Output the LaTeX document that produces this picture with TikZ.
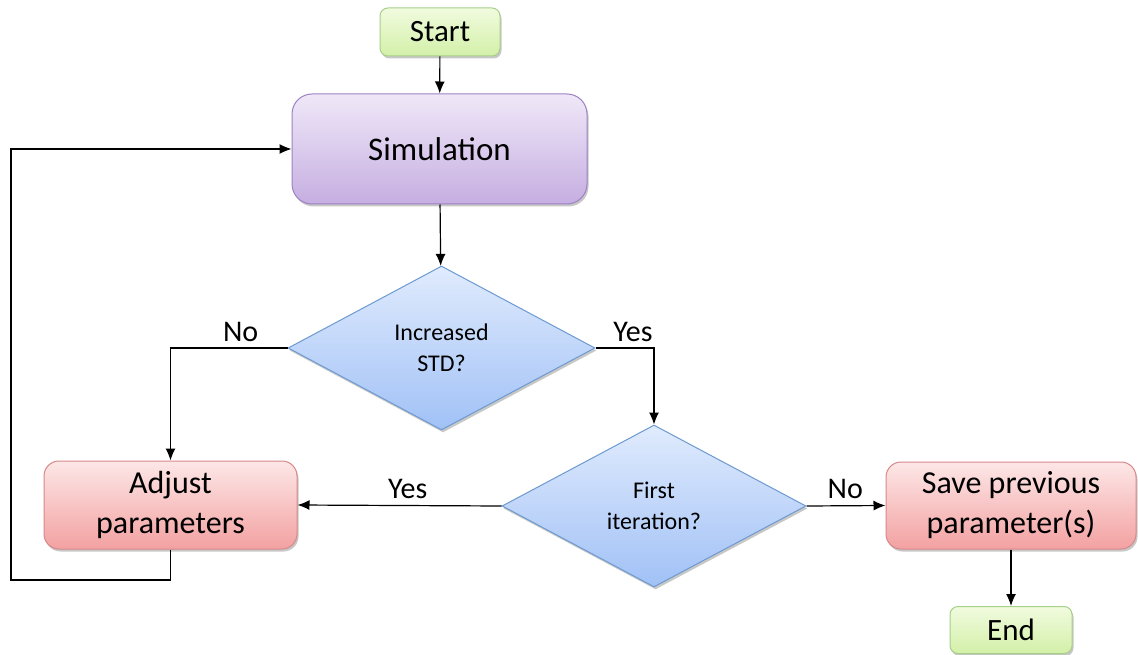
\documentclass[tikz,border=0pt]{standalone}
\usepackage{fontspec}
\setmainfont{Carlito}
\usetikzlibrary{shapes.geometric,arrows.meta,shadows}

\definecolor{greenTop}{HTML}{F1FBDF}
\definecolor{greenBot}{HTML}{D3F0A8}
\definecolor{greenLine}{HTML}{A6CF8A}
\definecolor{purpTop}{HTML}{EFE8F8}
\definecolor{purpBot}{HTML}{C6AEE1}
\definecolor{purpLine}{HTML}{9C82C4}
\definecolor{redTop}{HTML}{FDE7E7}
\definecolor{redBot}{HTML}{F3A1A1}
\definecolor{redLine}{HTML}{D7898A}
\definecolor{blueTop}{HTML}{E0EBFD}
\definecolor{blueBot}{HTML}{A1C1F6}
\definecolor{blueLine}{HTML}{6C9AD0}

\tikzset{
  softshadow/.style={drop shadow={opacity=0.22, shadow xshift=1.5pt, shadow yshift=-2.5pt, fill=black}},
  termbox/.style={rectangle, rounded corners=8pt, draw=greenLine, line width=1pt,
    top color=greenTop, bottom color=greenBot, softshadow,
    font=\fontsize{31}{36}\selectfont, inner sep=0pt, align=center},
  simbox/.style={rectangle, rounded corners=20pt, draw=purpLine, line width=1pt,
    top color=purpTop, bottom color=purpBot, softshadow,
    font=\fontsize{33}{40}\selectfont, inner sep=0pt, align=center},
  actbox/.style={rectangle, rounded corners=15pt, draw=redLine, line width=1pt,
    top color=redTop, bottom color=redBot, softshadow,
    font=\fontsize{32}{40}\selectfont, inner sep=0pt, align=center},
  decision/.style={diamond, draw=blueLine, line width=1pt,
    top color=blueTop, bottom color=blueBot, softshadow,
    font=\fontsize{24}{31}\selectfont, inner sep=0pt, align=center},
  flow/.style={draw=black, line width=1.2pt, -{Latex[length=12pt,width=10pt]}},
  lbl/.style={font=\fontsize{30}{34}\selectfont, inner sep=6pt, anchor=south}
}

\begin{document}
\begin{tikzpicture}[x=1pt,y=-1pt]
\useasboundingbox (0,0) rectangle (1138,655);

% process nodes
\node[termbox, minimum width=120pt, minimum height=48pt] (start) at (440,32) {Start};
\node[simbox, minimum width=295pt, minimum height=110pt] (sim) at (439.5,149) {Simulation};
\node[decision, minimum width=307pt, minimum height=164pt] (inc) at (441.5,348) {Increased\\STD?};
\node[decision, minimum width=304pt, minimum height=162pt] (first) at (654,506) {First\\iteration?};
\node[actbox, minimum width=253pt, minimum height=88pt] (adjust) at (170.5,505) {Adjust\\parameters};
\node[actbox, minimum width=250pt, minimum height=87pt] (save) at (1011,505.5) {Save previous\\parameter(s)};
\node[termbox, minimum width=122pt, minimum height=47pt] (end) at (1011,630) {End};

\coordinate (loop) at (11,580);

% connectors
\draw[flow] (start) -- (sim);
\draw[flow] (sim) -- (inc);
\draw[flow] (inc.west) -| node[lbl, pos=0.2] {No} (adjust.north);
\draw[flow] (inc.east) -| node[lbl, pos=0.32] {Yes} (first.north);
\draw[flow] (first.west) -- node[lbl, pos=0.46] {Yes} (adjust.east);
\draw[flow] (first.east) -- node[lbl, pos=0.49] {No} (save.west);
\draw[flow] (save) -- (end);
\draw[flow] (adjust.south) |- (loop) |- (sim.west);
\end{tikzpicture}
\end{document}
